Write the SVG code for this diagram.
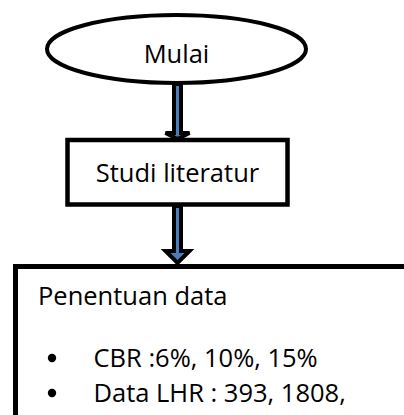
<svg xmlns="http://www.w3.org/2000/svg" width="404" height="415" viewBox="0 0 404 415">
<style>
.t{font-family:"Open Sans","Noto Sans",sans-serif;font-size:25.5px;fill:#000}
.shape{fill:#fff;stroke:#000}
.arrow{fill:#4a7ebb;stroke:#000;stroke-width:4;stroke-linejoin:miter}
</style>
<rect width="404" height="415" fill="#fff"/>
<g id="connectors">
<path class="arrow" d="M174 84 H181 V133 H189.5 L177.5 139 L165.5 133 H174 Z"/>
<path class="arrow" d="M174 206 H181 V251 H189.5 L177.5 263 L165.5 251 H174 Z"/>
</g>
<g id="mulai">
<ellipse class="shape" cx="176.5" cy="49" rx="129.5" ry="34" stroke-width="4"/>
<text class="t" x="176.5" y="63" text-anchor="middle">Mulai</text>
</g>
<g id="studi">
<rect class="shape" x="67.5" y="140" width="220" height="64.5" stroke-width="4.5"/>
<text class="t" x="177.5" y="182" text-anchor="middle">Studi literatur</text>
</g>
<g id="penentuan">
<rect class="shape" x="15.5" y="266.5" width="420" height="200" stroke-width="5"/>
<text class="t" x="38" y="305">Penentuan data</text>
<circle cx="52" cy="358" r="4.2" fill="#000"/>
<text class="t" x="93.5" y="367">CBR :6%, 10%, 15%</text>
<circle cx="52" cy="393" r="4.2" fill="#000"/>
<text class="t" x="93.5" y="402">Data LHR : 393, 1808,</text>
</g>
</svg>
